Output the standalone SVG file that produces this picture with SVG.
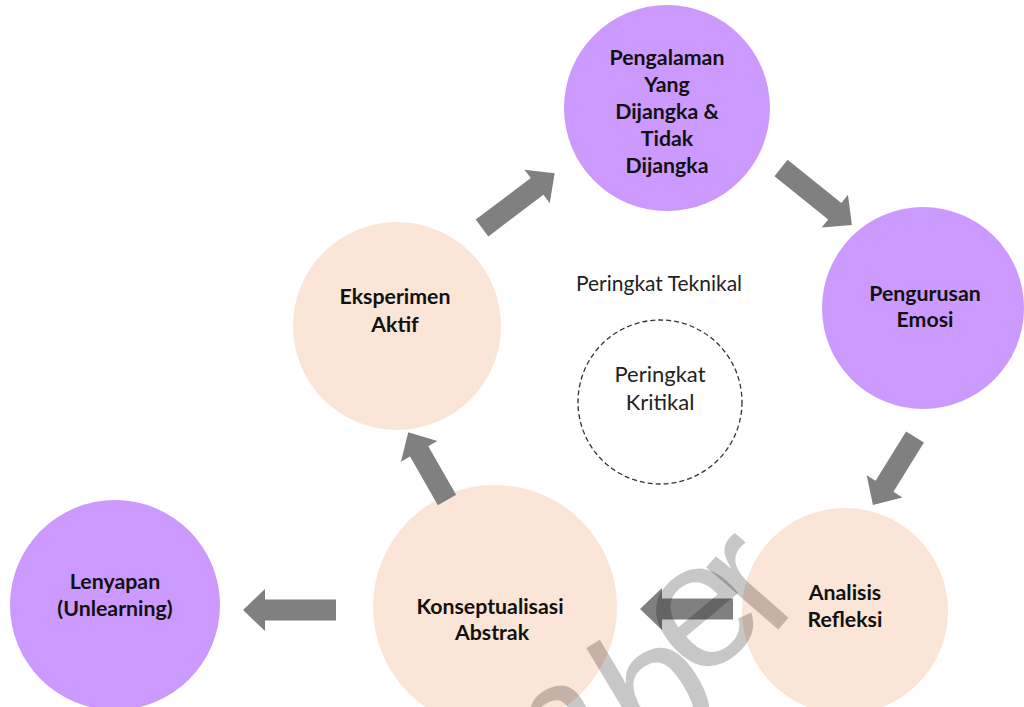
<svg xmlns="http://www.w3.org/2000/svg" width="1024" height="707" viewBox="0 0 1024 707">
<style>
.purple{fill:#CC99FF}
.peach{fill:#FBE5D6}
.lbl{font-family:Lato,"Liberation Sans",sans-serif;font-weight:bold;font-size:21.3px;fill:#111;text-anchor:middle}
.plain{font-family:Lato,"Liberation Sans",sans-serif;font-size:21px;fill:#222;text-anchor:middle}
.arrow{fill:#808080}
.wm{font-family:"Liberation Sans",Arial,sans-serif;font-size:180px;fill:#000;fill-opacity:0.22}
</style>
<rect width="1024" height="707" fill="#fff"/>
<g id="n-pengalaman">
<circle class="purple" cx="667" cy="108" r="103"/>
<text class="lbl" x="667" y="65">Pengalaman</text>
<text class="lbl" x="667" y="92">Yang</text>
<text class="lbl" x="667" y="119">Dijangka &amp;</text>
<text class="lbl" x="667" y="146">Tidak</text>
<text class="lbl" x="667" y="173">Dijangka</text>
</g>
<g id="n-pengurusan">
<circle class="purple" cx="923" cy="308" r="101"/>
<text class="lbl" x="925" y="301">Pengurusan</text>
<text class="lbl" x="925" y="327">Emosi</text>
</g>
<g id="n-analisis">
<circle class="peach" cx="845" cy="611" r="103"/>
<text class="lbl" x="845" y="600">Analisis</text>
<text class="lbl" x="845" y="627">Refleksi</text>
</g>
<g id="n-konseptualisasi">
<circle class="peach" cx="495" cy="607" r="122"/>
<text class="lbl" x="490" y="614">Konseptualisasi</text>
<text class="lbl" x="492" y="640">Abstrak</text>
</g>
<g id="n-eksperimen">
<circle class="peach" cx="397" cy="326" r="104"/>
<text class="lbl" x="395" y="304">Eksperimen</text>
<text class="lbl" x="395" y="332">Aktif</text>
</g>
<g id="n-lenyapan">
<circle class="purple" cx="115" cy="605" r="105"/>
<text class="lbl" x="115" y="589">Lenyapan</text>
<text class="lbl" x="115" y="616">(Unlearning)</text>
</g>
<g id="n-teknikal">
<text class="plain" x="659" y="291">Peringkat Teknikal</text>
</g>
<g id="n-kritikal">
<circle cx="660" cy="402" r="82" fill="none" stroke="#333" stroke-width="1.3" stroke-dasharray="5,3"/>
<text class="plain" x="660" y="382" style="font-size:22px">Peringkat</text>
<text class="plain" x="660" y="410" style="font-size:22px">Kritikal</text>
</g>
<g id="connectors">
<path class="arrow" transform="translate(482,228) rotate(-37)" d="M0,-10.5 H69 V-21 L91,0 L69,21 V10.5 H0 Z"/>
<path class="arrow" transform="translate(781,168) rotate(38.8)" d="M0,-10.5 H69 V-21 L91,0 L69,21 V10.5 H0 Z"/>
<path class="arrow" transform="translate(915,437) rotate(121.7)" d="M0,-10.5 H58 V-21 L80,0 L58,21 V10.5 H0 Z"/>
<path class="arrow" transform="translate(733,609) rotate(180)" d="M0,-10.5 H71 V-21 L93,0 L71,21 V10.5 H0 Z"/>
<path class="arrow" transform="translate(336,610) rotate(180)" d="M0,-10.5 H71 V-21 L93,0 L71,21 V10.5 H0 Z"/>
<path class="arrow" transform="translate(447,500) rotate(-119.8)" d="M0,-10.5 H56 V-21 L78,0 L56,21 V10.5 H0 Z"/>
</g>
<g id="watermark">
<text class="wm" transform="translate(492,826) rotate(-27)">m</text>
<text class="wm" transform="translate(643,766) rotate(-31)">b</text>
<text class="wm" transform="translate(696,686) rotate(-40)">e</text>
<text class="wm" transform="translate(770,639) rotate(-49)">r</text>
</g>
</svg>
